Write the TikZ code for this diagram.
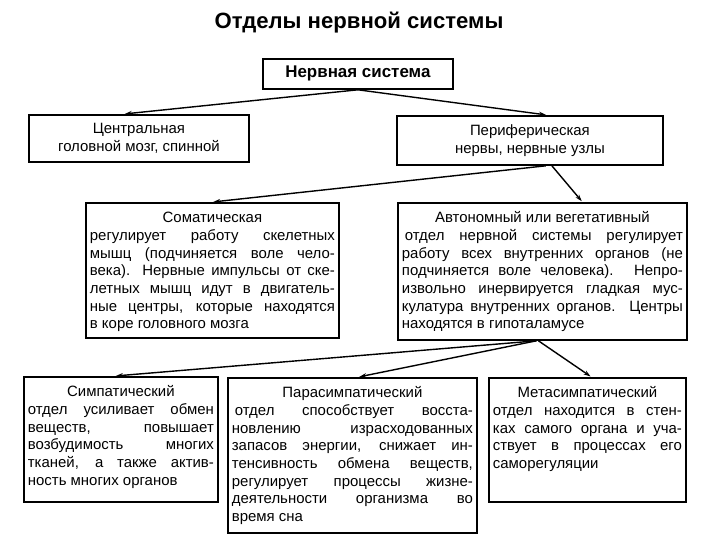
\documentclass[tikz,border=0pt]{standalone}
\usepackage{fontspec}
\setmainfont{Liberation Sans}
\usetikzlibrary{positioning,arrows.meta,calc}

% one justified line, one centred heading line
\newcommand{\fullline}[1]{\makebox[\hsize][s]{#1}\\}
\newcommand{\headline}[1]{\makebox[\hsize][c]{#1}\\}

\begin{document}
\begin{tikzpicture}[
    x=1bp, y=-1bp,
    shorten >=1pt,
    box/.style={draw, line width=1.8bp, anchor=north west, align=justify,
        font=\fontsize{15}{17.7}\selectfont,
        inner xsep=4bp, inner ysep=4bp, text height=16bp},
    midbox/.style={draw, line width=1.8bp, anchor=north west, align=center,
        font=\fontsize{15}{17.8}\selectfont},
    link/.style={-{Stealth[length=7bp,width=4.5bp]}, line width=1.4bp}
]
    \useasboundingbox (0,0) rectangle (720,540);

    % Title
    \node[font=\fontsize{22.2}{26}\selectfont\bfseries] (title) at (359,23) {Отделы нервной системы};

    % Top levels
    \node[midbox, minimum width=190bp, minimum height=30bp,
        font=\fontsize{17}{20}\selectfont\bfseries] (ns) at (262,58) {Нервная система};
    \node[midbox, minimum width=220bp, minimum height=47bp] (cns) at (28,114)
        {Центральная\\головной мозг, спинной};
    \node[midbox, minimum width=266bp, minimum height=49bp] (pns) at (396,115)
        {Периферическая\\нервы, нервные узлы};

    % Second level
    \node[box, text width=245bp, text depth=111bp] (som) at (85,202) {%
        \headline{Соматическая}
        \fullline{регулирует работу скелетных}
        \fullline{мышц (подчиняется воле чело-}
        \fullline{века). Нервные импульсы от ске-}
        \fullline{летных мышц идут в двигатель-}
        \fullline{ные центры, которые находятся}
        в коре головного мозга};
    \node[box, text width=281bp, text depth=113bp] (aut) at (397,202) {%
        \headline{Автономный или вегетативный}
        \fullline{\hspace{3bp}отдел нервной системы регулирует}
        \fullline{работу всех внутренних органов (не}
        \fullline{подчиняется воле человека). Непро-}
        \fullline{извольно инервируется гладкая мус-}
        \fullline{кулатура внутренних органов. Центры}
        находятся в гипоталамусе};

    % Third level
    \node[box, text width=186bp, text depth=101bp] (sym) at (23,376) {%
        \headline{Симпатический}
        \fullline{отдел усиливает обмен}
        \fullline{веществ, повышает}
        \fullline{возбудимость многих}
        \fullline{тканей, а также актив-}
        ность многих органов};
    \node[box, text width=241bp, text depth=131bp] (par) at (227,377) {%
        \headline{Парасимпатический}
        \fullline{\hspace{3bp}отдел способствует восста-}
        \fullline{новлению израсходованных}
        \fullline{запасов энергии, снижает ин-}
        \fullline{тенсивность обмена веществ,}
        \fullline{регулирует процессы жизне-}
        \fullline{деятельности организма во}
        время сна};
    \node[box, text width=189bp, text depth=100bp] (met) at (488,377) {%
        \headline{Метасимпатический}
        \fullline{отдел находится в стен-}
        \fullline{ках самого органа и уча-}
        \fullline{ствует в процессах его}
        саморегуляции};

    % Arrows
    \draw[link] (ns.south) -- ([xshift=-15bp]cns.north);
    \draw[link] (ns.south) -- ([xshift=17bp]pns.north);
    \draw[link] ([xshift=16bp]pns.south) -- (som.north);
    \draw[link] ([xshift=22bp]pns.south) -- ([xshift=40bp]aut.north);
    \draw[link] ([xshift=-6bp]aut.south) -- ([xshift=-6bp]sym.north);
    \draw[link] ([xshift=-6bp]aut.south) -- ([xshift=6bp]par.north);
    \draw[link] ([xshift=-4bp]aut.south) -- ([xshift=4bp]met.north);
\end{tikzpicture}
\end{document}
